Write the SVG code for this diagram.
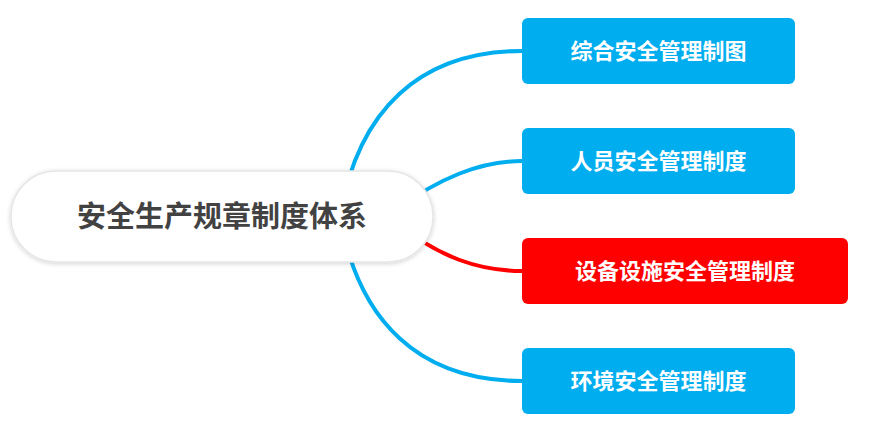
<svg xmlns="http://www.w3.org/2000/svg" width="893" height="432" viewBox="0 0 893 432">
<defs>
<style>
.c{fill:none;stroke-linecap:round}
.n{fill:#00adef}
.t{font-family:"Liberation Sans","Noto Sans CJK SC",sans-serif;font-weight:bold;font-size:22px;fill:#fff;text-anchor:middle}
</style>
<filter id="sh" x="-10%" y="-20%" width="120%" height="140%"><feDropShadow dx="0" dy="1" stdDeviation="2" flood-color="#000" flood-opacity="0.18"/></filter>
</defs>
<g id="connectors">
<path class="c" d="M340 216 C358 110 420 51 522 51" stroke="#00adef" stroke-width="4"/>
<path class="c" d="M395 210 C440 178 480 161 522 161" stroke="#00adef" stroke-width="4"/>
<path class="c" d="M395 222 C440 258 480 271 522 271" stroke="#ff0000" stroke-width="4"/>
<path class="c" d="M340 216 C358 322 420 381 522 381" stroke="#00adef" stroke-width="4"/>
</g>
<g id="root">
<rect x="11" y="171" width="422" height="91" rx="45" fill="#fff" stroke="#e6e6e6" stroke-width="1.5" filter="url(#sh)"/>
<text x="222" y="227" font-family="'Liberation Sans','Noto Sans CJK SC',sans-serif" font-weight="bold" font-size="29" fill="#424242" text-anchor="middle">安全生产规章制度体系</text>
</g>
<g id="n1"><rect class="n" x="522" y="18" width="273" height="66" rx="6"/><text class="t" x="658.5" y="59">综合安全管理制图</text></g>
<g id="n2"><rect class="n" x="522" y="128" width="273" height="66" rx="6"/><text class="t" x="658.5" y="169">人员安全管理制度</text></g>
<g id="n3"><rect x="522" y="238" width="326" height="66" rx="6" fill="#ff0000"/><text class="t" x="685" y="279">设备设施安全管理制度</text></g>
<g id="n4"><rect class="n" x="522" y="348" width="273" height="66" rx="6"/><text class="t" x="658.5" y="389">环境安全管理制度</text></g>
</svg>
